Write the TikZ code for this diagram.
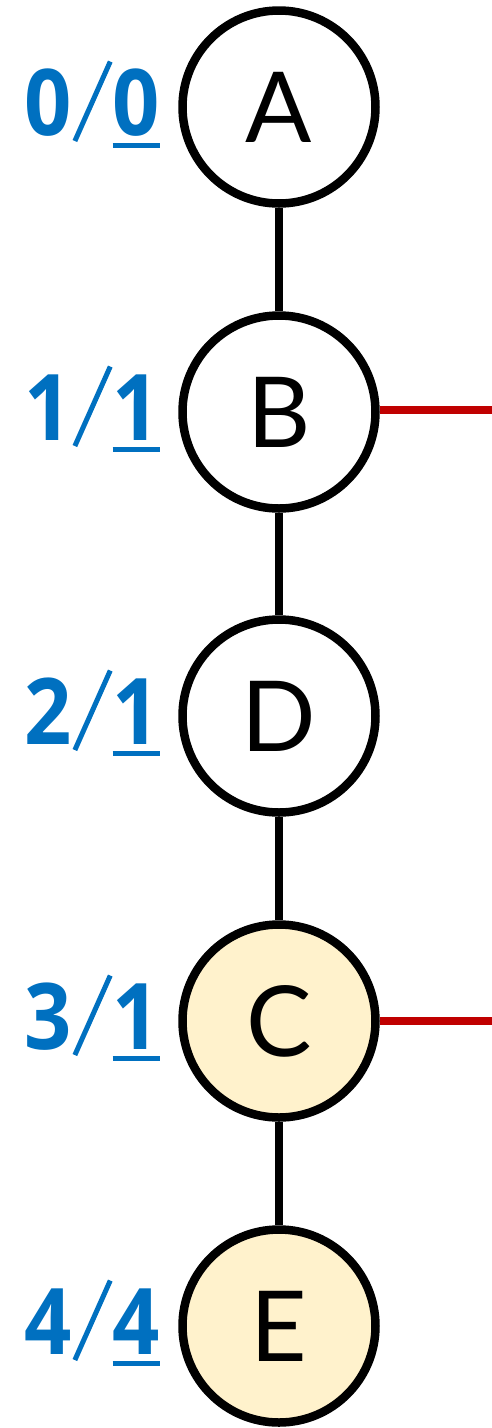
\documentclass[tikz,border=0pt]{standalone}
\usepackage{fontspec}
\usepackage{graphicx}
\setmainfont{Lato}
\newfontfamily\lblfont{Open Sans}[FakeStretch=0.9]
\definecolor{lblue}{HTML}{0070C0}
\definecolor{nfill}{HTML}{FFF2CC}
\definecolor{ered}{HTML}{C00000}
\newcommand\myul[1]{\leavevmode\vtop{\hbox{#1}\kern 7pt\hrule height 5pt}}
\newcommand\myslash{\hspace{1pt}\raisebox{-5pt}{\rotatebox{-24}{\rule{5pt}{87pt}}}\hspace{0pt}}
\begin{document}
\begin{tikzpicture}[x=1pt,y=-1pt,
  vertex/.style={circle,draw=black,line width=8.5pt,minimum size=193pt,inner sep=0pt,font=\fontsize{98}{98}\selectfont},
  hot/.style={vertex,fill=nfill},
  lbl/.style={anchor=base east,inner sep=0pt,text=lblue,font=\lblfont\fontsize{92}{92}\selectfont\bfseries},
  edge/.style={line width=8.5pt,draw=black},
  redge/.style={line width=8.5pt,draw=ered}]
\useasboundingbox (0,0) rectangle (492,1428);
\node[vertex] (A) at (279,107) {A};
\node[vertex] (B) at (279,412) {B};
\node[vertex] (D) at (279,716) {D};
\node[hot] (C) at (279,1021) {C};
\node[hot] (E) at (279,1326) {E};
\node[lbl] (lA) at (160,135) {0\myslash\myul{0}};
\node[lbl] (lB) at (160,440) {1\myslash\myul{1}};
\node[lbl] (lD) at (160,744) {2\myslash\myul{1}};
\node[lbl] (lC) at (160,1049) {3\myslash\myul{1}};
\node[lbl] (lE) at (160,1354) {4\myslash\myul{4}};
\coordinate (rB) at (492,410);
\coordinate (rC) at (492,1021);
\draw[edge] (A) -- (B);
\draw[edge] (B) -- (D);
\draw[edge] (D) -- (C);
\draw[edge] (C) -- (E);
\draw[redge] (B.east |- rB) -- (rB);
\draw[redge] (C) -- (rC);
\end{tikzpicture}
\end{document}
